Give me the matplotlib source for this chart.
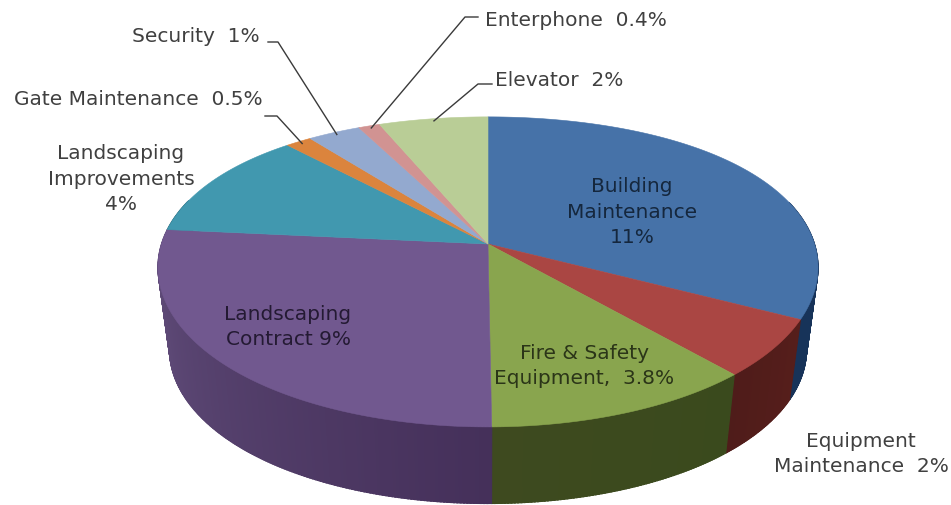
import numpy as np
import matplotlib
matplotlib.use('Agg')
import matplotlib.pyplot as plt
from matplotlib.patches import Polygon

# Budget shares in percent, clockwise from 12 o'clock
categories = ['Building Maintenance', 'Equipment Maintenance', 'Fire & Safety Equipment',
              'Landscaping Contract', 'Landscaping Improvements', 'Gate Maintenance',
              'Security', 'Enterphone', 'Elevator']
values = [11, 2, 3.8, 9, 4, 0.5, 1, 0.4, 2]

top_colors = ['#4672A8', '#AA4643', '#89A54E', '#71588F', '#4198AF',
              '#DB843D', '#93A9CF', '#D19392', '#B9CD96']
# Side wall colour at the start and end of each slice
wall_colors = [('#173359', '#173359'), ('#561E1B', '#4F1C1A'), ('#3A4A1D', '#3E4A1F'),
               ('#45305A', '#65517F'), ('#2F6F80', '#2F6F80'), ('#A0602C', '#A0602C'),
               ('#6D7D99', '#6D7D99'), ('#9A6C6B', '#9A6C6B'), ('#88976E', '#88976E')]

# Projection of the tilted disc
CX, CY = 488, 245
RX, RY = 326.5, 150
PERSP = 0.18
BOTTOM_CY, BOTTOM_SCALE = 328, 0.965


def project(theta, r=1.0, bottom=False):
    # theta in degrees, clockwise from the back of the pie
    t = np.radians(theta)
    u = r * np.sin(t)
    d = -r * np.cos(t)
    s = 1 / (1 - PERSP * d)
    # the back half narrows less than the depth suggests
    sx = 1 / (1 - (0.14 + 0.04 * d) * d)
    if bottom:
        return CX + BOTTOM_SCALE * RX * u * sx, BOTTOM_CY + BOTTOM_SCALE * RY * d * s
    return CX + RX * u * sx, CY + RY * d * s


def mix(c1, c2, f):
    a = np.array(matplotlib.colors.to_rgb(c1))
    b = np.array(matplotlib.colors.to_rgb(c2))
    return a + (b - a) * f


fig = plt.figure(figsize=(9.51, 5.06), dpi=100)
ax = fig.add_axes([0, 0, 1, 1])
ax.set_xlim(0, 951)
ax.set_ylim(506, 0)
ax.axis('off')

edges = np.concatenate([[0], np.cumsum(values)]) / np.sum(values) * 360

# Side walls, thin strips painted back to front
strips = []
for i in range(len(values)):
    for a in np.arange(edges[i], edges[i + 1], 0.5):
        b = min(a + 0.75, edges[i + 1])
        f = (a - edges[i]) / (edges[i + 1] - edges[i])
        strips.append((a, b, mix(wall_colors[i][0], wall_colors[i][1], f)))
strips.sort(key=lambda s: -np.cos(np.radians(s[0])))
for a, b, col in strips:
    if -np.cos(np.radians(a)) < -0.3:
        continue
    th = np.array([a, b])
    x0, y0 = project(th)
    x1, y1 = project(th, bottom=True)
    pts = np.column_stack([np.r_[x0, x1[::-1]], np.r_[y0, y1[::-1]]])
    ax.add_patch(Polygon(pts, closed=True, facecolor=col, edgecolor=col, linewidth=0.8))

# Top face
for i in range(len(values)):
    th = np.linspace(edges[i], edges[i + 1], 120)
    x, y = project(th)
    pts = np.column_stack([np.r_[CX, x], np.r_[CY, y]])
    ax.add_patch(Polygon(pts, closed=True, facecolor=top_colors[i],
                         edgecolor=top_colors[i], linewidth=0.4))

TEXT_SIZE = 14.5
SPACING = 1.42
OUT_COLOR = '#404040'

# Labels inside the slices
ax.text(632, 212, 'Building\nMaintenance\n11%', ha='center', va='center', fontsize=TEXT_SIZE,
        color='#15273D', linespacing=SPACING)
ax.text(584, 366, 'Fire & Safety\nEquipment,  3.8%', ha='center', va='center', fontsize=TEXT_SIZE,
        color='#2B3518', linespacing=SPACING)
ax.text(288, 327, 'Landscaping\nContract 9%', ha='center', va='center', fontsize=TEXT_SIZE,
        color='#241A33', linespacing=SPACING)

# Labels outside the pie
ax.text(861, 454, 'Equipment\nMaintenance  2%', ha='center', va='center', fontsize=TEXT_SIZE,
        color=OUT_COLOR, linespacing=SPACING, multialignment='center')
ax.text(121, 179, 'Landscaping\nImprovements\n4%', ha='center', va='center', fontsize=TEXT_SIZE,
        color=OUT_COLOR, linespacing=SPACING)
ax.text(263, 99, 'Gate Maintenance  0.5%', ha='right', va='center', fontsize=TEXT_SIZE, color=OUT_COLOR)
ax.text(260, 36, 'Security  1%', ha='right', va='center', fontsize=TEXT_SIZE, color=OUT_COLOR)
ax.text(485, 20, 'Enterphone  0.4%', ha='left', va='center', fontsize=TEXT_SIZE, color=OUT_COLOR)
ax.text(495, 80, 'Elevator  2%', ha='left', va='center', fontsize=TEXT_SIZE, color=OUT_COLOR)

# Leader lines from the rim of the small slices, (knee, end)
leaders = {5: ((277, 117), (265, 117)), 6: ((278, 43), (268, 43)),
           7: ((465, 18), (478, 18)), 8: ((478, 85), (492, 85))}
for i, (knee, end) in leaders.items():
    x, y = project((edges[i] + edges[i + 1]) / 2, r=0.98)
    ax.plot([x, knee[0], end[0]], [y, knee[1], end[1]], color='#3A3A3A', linewidth=1.0)

fig.savefig('out.png', dpi=100, facecolor='white')
